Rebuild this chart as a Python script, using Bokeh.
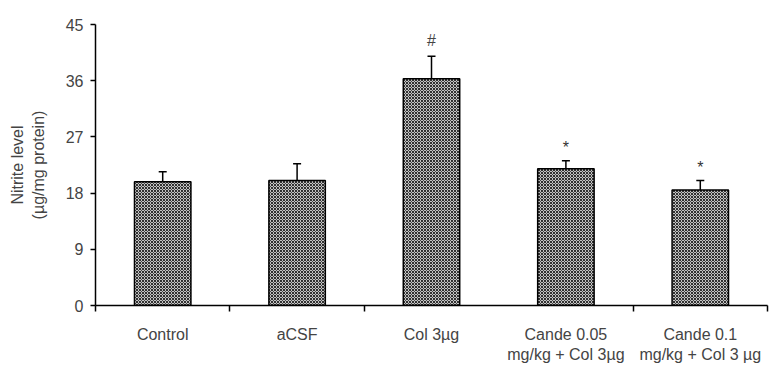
from bokeh.plotting import figure
from bokeh.models import ColumnDataSource, Whisker, FixedTicker
from bokeh.core.properties import value
from bokeh.embed import file_html
from bokeh.resources import INLINE

categories = ["Control", "aCSF", "Col 3µg", "Cande 0.05\nmg/kg + Col 3µg", "Cande 0.1\nmg/kg + Col 3 µg"]
means = [19.8, 20.0, 36.3, 21.9, 18.5]
errors = [1.6, 2.7, 3.6, 1.3, 1.5]
marks = ["", "", "#", "*", "*"]
y_ticks = [0, 9, 18, 27, 36, 45]
boundary_ticks = [0, 1, 2, 4, 5]

FONT = "Liberation Sans"

xs = [i + 0.5 for i in range(len(categories))]
src = ColumnDataSource(dict(
    x=xs, top=means,
    upper=[m + e for m, e in zip(means, errors)],
    lower=[m - e for m, e in zip(means, errors)],
))

p = figure(x_range=(0, len(categories)), y_range=(0, 45),
           width=773, height=372, output_backend="svg", toolbar_location=None,
           min_border_left=95, min_border_right=6, min_border_top=24, min_border_bottom=67)
p.outline_line_color = None
p.xgrid.grid_line_color = None
p.ygrid.grid_line_color = None

p.vbar(x="x", top="top", width=0.42, source=src, fill_color="#c4c4c4",
       hatch_pattern="x", hatch_color="black", hatch_scale=3, hatch_weight=1, hatch_alpha=0.75,
       line_color="black", line_width=1.5)

w = Whisker(base="x", upper="upper", lower="lower", source=src, line_color="black", line_width=1.5)
w.upper_head.size = 8
w.lower_head.size = 8
w.upper_head.line_width = 1.5
w.lower_head.line_width = 1.5
p.add_layout(w)

hx = [x for x, m in zip(xs, marks) if m == "#"]
hy = [m + e for m, e, k in zip(means, errors, marks) if k == "#"]
ht = [k for k in marks if k == "#"]
sx = [x for x, m in zip(xs, marks) if m == "*"]
sy = [m + e for m, e, k in zip(means, errors, marks) if k == "*"]
st = [k for k in marks if k == "*"]
p.text(x=hx, y=hy, text=ht, text_font=value(FONT), text_font_size="16px",
       text_align="center", text_baseline="bottom", y_offset=-7, text_color="#444444")
p.text(x=sx, y=sy, text=st, text_font=value(FONT), text_font_size="16px",
       text_align="center", text_baseline="middle", y_offset=-13, text_color="#333333")

# x axis: labels at category centres, tick marks at category boundaries
p.xaxis.ticker = FixedTicker(ticks=xs, minor_ticks=boundary_ticks)
p.xaxis.major_label_overrides = {x: c for x, c in zip(xs, categories)}
p.xaxis.major_tick_line_color = None
p.xaxis.major_tick_in = 0
p.xaxis.major_tick_out = 0
p.xaxis.minor_tick_in = 0
p.xaxis.minor_tick_out = 6
p.xaxis.minor_tick_line_width = 1.5
p.xaxis.minor_tick_line_color = "black"
p.xaxis.axis_line_width = 1.5
p.xaxis.major_label_text_font = FONT
p.xaxis.major_label_text_font_size = "16px"
p.xaxis.major_label_standoff = 14

p.yaxis.ticker = FixedTicker(ticks=y_ticks)
p.yaxis.axis_label = "Nitrite level\n(µg/mg protein)"
p.yaxis.axis_label_text_font = FONT
p.yaxis.axis_label_text_font_size = "16px"
p.yaxis.axis_label_text_font_style = "normal"
p.yaxis.axis_label_standoff = 16
p.yaxis.major_label_text_font = FONT
p.yaxis.major_label_text_font_size = "16px"
p.yaxis.major_tick_in = 0
p.yaxis.major_tick_out = 5
p.yaxis.minor_tick_line_color = None
p.yaxis.axis_line_width = 1.5
p.yaxis.major_tick_line_width = 1.5
p.yaxis.major_label_standoff = 7

out = open("out.html", "w")
out.write(file_html(p, INLINE))
out.close()
